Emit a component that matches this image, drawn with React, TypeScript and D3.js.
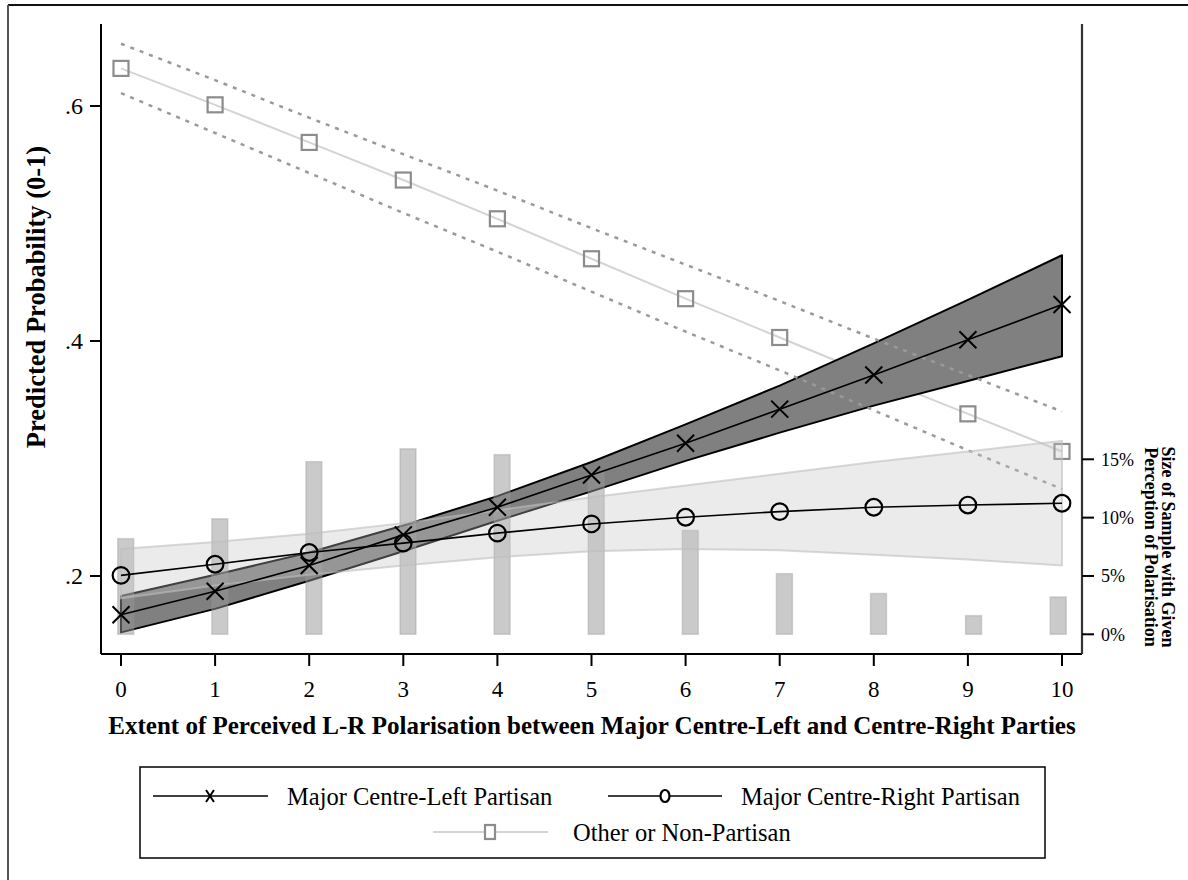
import React from "react";
import * as d3 from "d3";

const xs = [0, 1, 2, 3, 4, 5, 6, 7, 8, 9, 10];

const leftVals = [0.167, 0.187, 0.209, 0.235, 0.2585, 0.286, 0.313, 0.342, 0.371, 0.401, 0.431];
const leftUpper = [0.183, 0.201, 0.220, 0.243, 0.268, 0.297, 0.329, 0.362, 0.398, 0.435, 0.473];
const leftLower = [0.152, 0.172, 0.196, 0.221, 0.247, 0.272, 0.298, 0.322, 0.345, 0.366, 0.387];

const rightVals = [0.2005, 0.21, 0.22, 0.228, 0.2365, 0.2443, 0.25, 0.2548, 0.2585, 0.2604, 0.2619];
const rightUpper = [0.223, 0.229, 0.236, 0.245, 0.256, 0.267, 0.277, 0.287, 0.297, 0.306, 0.315];
const rightLower = [0.181, 0.192, 0.201, 0.209, 0.216, 0.221, 0.223, 0.222, 0.218, 0.214, 0.209];

const otherVals = [0.632, 0.601, 0.569, 0.537, 0.504, 0.47, 0.436, 0.403, 0.37, 0.338, 0.306];
const otherUpper = [0.653, 0.622, 0.59, 0.559, 0.528, 0.496, 0.465, 0.434, 0.402, 0.371, 0.34];
const otherLower = [0.611, 0.577, 0.543, 0.509, 0.476, 0.442, 0.408, 0.375, 0.341, 0.307, 0.274];

const barX = [0.05, 1.05, 2.05, 3.05, 4.05, 5.05, 6.05, 7.05, 8.05, 9.06, 9.96];
const barPct = [8.2, 9.9, 14.8, 15.9, 15.4, 13.9, 8.9, 5.2, 3.5, 1.6, 3.2];

const yTicks = [0.2, 0.4, 0.6];
const yTickLabels = [".2", ".4", ".6"];
const pctTicks = [0, 5, 10, 15];
const pctTickLabels = ["0%", "5%", "10%", "15%"];

const legendLabels = ["Major Centre-Left Partisan", "Major Centre-Right Partisan", "Other or Non-Partisan"];

const FONT = "'Liberation Serif', 'Times New Roman', serif";

export default function App() {
  const x = d3.scaleLinear().domain([0, 10]).range([121, 1062]);
  const y = d3.scaleLinear().domain([0.2, 0.6]).range([576, 106]);
  const yP = d3.scaleLinear().domain([0, 15]).range([634.3, 459.3]);

  const plotL = 101, plotR = 1082, plotT = 24, plotB = 654;

  const line = d3.line<number>().x((_, i) => x(xs[i])).y((d) => y(d));
  const band = (up: number[], lo: number[]) =>
    d3.area<number>().x((_, i) => x(xs[i])).y0((_, i) => y(lo[i])).y1((d) => y(d))(up) || "";
  const bandOutline = (up: number[], lo: number[]) => {
    const pts: [number, number][] = [];
    up.forEach((v, i) => pts.push([x(xs[i]), y(v)]));
    for (let i = lo.length - 1; i >= 0; i--) pts.push([x(xs[i]), y(lo[i])]);
    return (d3.line()(pts) || "") + "Z";
  };

  const cross = (cx: number, cy: number, sx: number, sy: number) =>
    `M${cx - sx},${cy - sy}L${cx + sx},${cy + sy}M${cx - sx},${cy + sy}L${cx + sx},${cy - sy}`;

  return (
    <svg width={1188} height={880} style={{ position: "absolute", left: 0, top: 0, background: "#fff" }}>
      {/* outer frame */}
      <line x1={8} y1={5} x2={1188} y2={5} stroke="#111" strokeWidth={2} />
      <line x1={8} y1={5} x2={8} y2={880} stroke="#555" strokeWidth={2} />

      {/* Other: line and squares */}
      <path d={line(otherVals) || ""} fill="none" stroke="#d4d4d4" strokeWidth={2} />
      {otherVals.map((v, i) => (
        <rect key={"sq" + i} x={x(xs[i]) - 7.5} y={y(v) - 7.5} width={15} height={15} fill="none" stroke="#8c8c8c" strokeWidth={2.2} />
      ))}

      {/* Left CI band */}
      <path d={band(leftUpper, leftLower)} fill="#808080" />
      <path d={bandOutline(leftUpper, leftLower)} fill="none" stroke="#000" strokeWidth={2} strokeLinejoin="round" />

      {/* Other CI dotted */}
      <path d={line(otherUpper) || ""} fill="none" stroke="#9a9a9a" strokeWidth={2.5} strokeDasharray="4,6" />
      <path d={line(otherLower) || ""} fill="none" stroke="#9a9a9a" strokeWidth={2.5} strokeDasharray="4,6" />

      {/* Bars */}
      {barPct.map((p, i) => (
        <rect key={"b" + i} x={x(barX[i]) - 8} y={yP(p)} width={16} height={yP(0) - yP(p)}
          fill="rgba(150,150,150,0.5)" stroke="rgba(150,150,150,0.35)" strokeWidth={1.5} />
      ))}

      {/* Right CI band */}
      <path d={band(rightUpper, rightLower)} fill="rgb(194,194,194)" fillOpacity={0.33}
        stroke="rgb(190,190,190)" strokeOpacity={0.6} strokeWidth={2} />

      {/* Left line */}
      <path d={line(leftVals) || ""} fill="none" stroke="#000" strokeWidth={1.6} />
      {leftVals.map((v, i) => (
        <path key={"x" + i} d={cross(x(xs[i]), y(v), 8.5, 8.5)} stroke="#000" strokeWidth={2} />
      ))}

      {/* Right line */}
      <path d={line(rightVals) || ""} fill="none" stroke="#000" strokeWidth={1.6} />
      {rightVals.map((v, i) => (
        <circle key={"c" + i} cx={x(xs[i])} cy={y(v)} r={8.3} fill="none" stroke="#000" strokeWidth={2.2} />
      ))}

      {/* Axes */}
      <line x1={plotL} y1={plotT} x2={plotL} y2={plotB} stroke="#000" strokeWidth={2} />
      <line x1={plotL} y1={plotB} x2={plotR} y2={plotB} stroke="#000" strokeWidth={2} />
      <line x1={plotR} y1={plotT} x2={plotR} y2={plotB} stroke="#333" strokeWidth={2.2} />

      {yTicks.map((t, i) => (
        <g key={"yt" + i}>
          <line x1={plotL - 11} x2={plotL} y1={y(t)} y2={y(t)} stroke="#000" strokeWidth={2} />
          <text x={83} y={y(t)} dy="0.35em" textAnchor="end" fontFamily={FONT} fontSize={24}>{yTickLabels[i]}</text>
        </g>
      ))}

      {xs.map((t) => (
        <g key={"xt" + t}>
          <line x1={x(t)} x2={x(t)} y1={plotB} y2={plotB + 12} stroke="#000" strokeWidth={2} />
          <text x={x(t)} y={689} dy="0.35em" textAnchor="middle" fontFamily={FONT} fontSize={23}>{t}</text>
        </g>
      ))}

      {pctTicks.map((t, i) => (
        <g key={"pt" + i}>
          <line x1={plotR} x2={plotR + 12} y1={yP(t)} y2={yP(t)} stroke="#000" strokeWidth={2} />
          <text x={1101} y={yP(t)} dy="0.35em" textAnchor="start" fontFamily={FONT} fontSize={18}>{pctTickLabels[i]}</text>
        </g>
      ))}

      {/* Titles */}
      <text transform="translate(45,297) rotate(-90)" textAnchor="middle" fontFamily={FONT} fontSize={26.5} fontWeight="bold">
        Predicted Probability (0-1)
      </text>
      <text x={592} y={734} textAnchor="middle" fontFamily={FONT} fontSize={25} fontWeight="bold">
        Extent of Perceived L-R Polarisation between Major Centre-Left and Centre-Right Parties
      </text>
      <text transform="translate(1162,547) rotate(90)" textAnchor="middle" fontFamily={FONT} fontSize={18} fontWeight="bold">
        Size of Sample with Given
      </text>
      <text transform="translate(1145,547) rotate(90)" textAnchor="middle" fontFamily={FONT} fontSize={18} fontWeight="bold">
        Perception of Polarisation
      </text>

      {/* Legend */}
      <rect x={140} y={767} width={905} height={91} fill="#fff" stroke="#000" strokeWidth={1.5} />
      <line x1={153} x2={268} y1={796} y2={796} stroke="#000" strokeWidth={1.6} />
      <path d={cross(210, 796, 4, 6)} stroke="#000" strokeWidth={2} />
      <text x={287} y={796} dy="0.35em" fontFamily={FONT} fontSize={24.5}>{legendLabels[0]}</text>
      <line x1={608} x2={722} y1={796} y2={796} stroke="#000" strokeWidth={1.6} />
      <ellipse cx={665} cy={796} rx={4.5} ry={6} fill="#fff" stroke="#000" strokeWidth={2.2} />
      <text x={741} y={796} dy="0.35em" fontFamily={FONT} fontSize={24.5}>{legendLabels[1]}</text>
      <line x1={433} x2={548} y1={832} y2={832} stroke="#d4d4d4" strokeWidth={2} />
      <rect x={485} y={825} width={10} height={14} fill="#fff" stroke="#8c8c8c" strokeWidth={2.2} />
      <text x={573} y={832} dy="0.35em" fontFamily={FONT} fontSize={24.5}>{legendLabels[2]}</text>
    </svg>
  );
}
